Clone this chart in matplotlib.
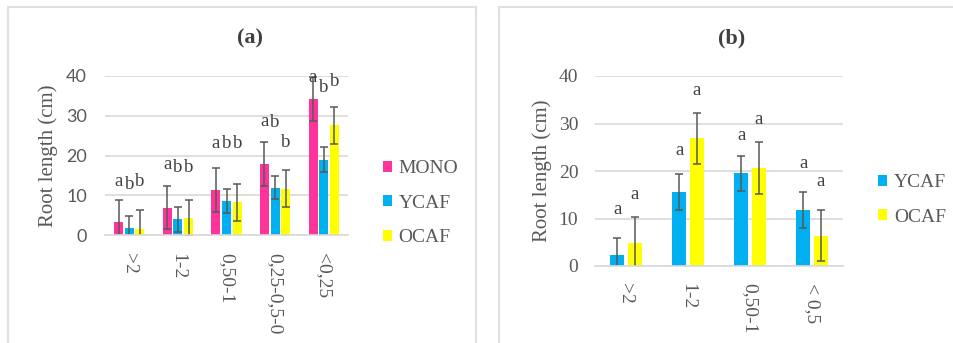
import matplotlib
matplotlib.use("Agg")
import matplotlib.pyplot as plt
from matplotlib.patches import Rectangle
import numpy as np

# panel (a)
cats_a = [">2", "1-2", "0,50-1", "0,25-0,5-0", "<0,25"]
mono = [3.35, 6.9, 11.4, 17.9, 34.2]
mono_err = [5.45, 5.4, 5.5, 5.5, 5.5]
ycaf_a = [1.85, 3.9, 8.55, 11.9, 18.9]
ycaf_a_err = [3.0, 3.1, 3.0, 2.9, 3.15]
ocaf_a = [1.5, 4.3, 8.2, 11.65, 27.6]
ocaf_a_err = [4.7, 4.5, 4.6, 4.6, 4.6]
letters_a = [["a", "b", "b"], ["a", "b", "b"], ["a", "b", "b"], ["a", "b", "b"], ["a", "b", "b"]]
letter_y_a = [[13.5, 12.8, 13.5], [17.7, 17.0, 17.0], [23.0, 23.1, 23.0],
              [28.5, 28.2, 23.3], [39.7, 37.2, 38.7]]

# panel (b)
cats_b = [">2", "1-2", "0,50-1", "< 0,5"]
ycaf_b = [2.25, 15.5, 19.5, 11.75]
ycaf_b_err = [3.7, 3.8, 3.7, 3.8]
ocaf_b = [4.85, 26.85, 20.7, 6.4]
ocaf_b_err = [5.5, 5.3, 5.5, 5.4]
letters_b = [["a", "a"], ["a", "a"], ["a", "a"], ["a", "a"]]
letter_y_b = [[11.8, 15.1], [24.3, 36.9], [27.4, 30.8], [21.65, 17.8]]

PINK = "#FF3399"
CYAN = "#00B0F0"
YELLOW = "#FFFF00"
GREY = "#595959"
GRID = "#D9D9D9"
SERIF = "Liberation Serif"

fig = plt.figure(figsize=(9.54, 3.43), dpi=100)

# panel frames
fig.patches.append(Rectangle((8 / 954, -0.1), 468 / 954, 1.1 - 7 / 343, transform=fig.transFigure,
                             fill=False, edgecolor="#E0E0E0", lw=1.5))
fig.patches.append(Rectangle((499 / 954, -0.1), 0.6, 1.1 - 7 / 343, transform=fig.transFigure,
                             fill=False, edgecolor="#E0E0E0", lw=1.5))

ax_a = fig.add_axes([105 / 954, 1 - 235 / 343, 243 / 954, 159 / 343])
ax_b = fig.add_axes([595 / 954, 1 - 266 / 343, 248 / 954, 190 / 343])

ekw = dict(ecolor=GREY, elinewidth=1.1, capsize=3, capthick=1.1)


def style(ax, cats, tickfont, ticksize, pad):
    ax.set_ylim(0, 40)
    ax.set_xlim(-0.5, len(cats) - 0.5)
    ax.set_yticks([0, 10, 20, 30, 40])
    ax.yaxis.grid(True, color=GRID, lw=1.2)
    ax.set_axisbelow(True)
    for s in ["top", "right", "left"]:
        ax.spines[s].set_visible(False)
    ax.spines["bottom"].set_color(GRID)
    ax.spines["bottom"].set_linewidth(1.2)
    ax.set_xticks(np.arange(len(cats)))
    ax.set_xticklabels(cats, rotation=-90, fontsize=14, family=SERIF, color=GREY, va="top")
    ax.tick_params(axis="both", length=0, colors=GREY)
    ax.tick_params(axis="y", pad=pad)
    ax.tick_params(axis="x", pad=pad)
    for t in ax.get_yticklabels():
        t.set_fontfamily(tickfont)
        t.set_fontsize(ticksize)
    ax.set_ylabel("Root length (cm)", fontsize=15, family=SERIF, color=GREY)


# --- panel (a)
x = np.arange(len(cats_a))
off = 0.22
w = 0.185
series_a = [(mono, mono_err, PINK, "MONO"), (ycaf_a, ycaf_a_err, CYAN, "YCAF"),
            (ocaf_a, ocaf_a_err, YELLOW, "OCAF")]
for k, (vals, errs, col, lab) in enumerate(series_a):
    ax_a.bar(x + (k - 1) * off, vals, w, color=col, label=lab, yerr=errs, error_kw=ekw)
for i in range(len(cats_a)):
    for k in range(3):
        ax_a.text(x[i] + (k - 1) * off, letter_y_a[i][k], letters_a[i][k], ha="center", va="center",
                  fontsize=13.5, family=SERIF, color="#404040")
style(ax_a, cats_a, "Lato", 13, 13)
ax_a.yaxis.set_label_coords(-0.193, 0.5)
ax_a.set_title("(a)", fontsize=16, family=SERIF, fontweight="bold", color="#404040",
               x=(250 - 105) / 243, y=1 + (76 - 38) / 159, va="center", pad=0)
ax_a.legend(loc="center left", bbox_to_anchor=(1.07, 0.2), frameon=False,
            prop={"family": SERIF, "size": 14}, handlelength=0.48, handleheight=0.48,
            handletextpad=0.35, labelspacing=0.9, labelcolor=GREY)

# --- panel (b)
x = np.arange(len(cats_b))
off = 0.28
w = 0.226
series_b = [(ycaf_b, ycaf_b_err, CYAN, "YCAF"), (ocaf_b, ocaf_b_err, YELLOW, "OCAF")]
for k, (vals, errs, col, lab) in enumerate(series_b):
    ax_b.bar(x + (k - 0.5) * off, vals, w, color=col, label=lab, yerr=errs, error_kw=ekw)
for i in range(len(cats_b)):
    for k in range(2):
        ax_b.text(x[i] + (k - 0.5) * off, letter_y_b[i][k], letters_b[i][k], ha="center", va="center",
                  fontsize=13.5, family=SERIF, color="#404040")
style(ax_b, cats_b, SERIF, 14, 12)
ax_b.yaxis.set_label_coords(-0.173, 0.5)
ax_b.set_title("(b)", fontsize=16, family=SERIF, fontweight="bold", color="#404040",
               x=(732 - 595) / 248, y=1 + (76 - 38) / 190, va="center", pad=0)
ax_b.legend(loc="center left", bbox_to_anchor=(1.07, 0.347), frameon=False,
            prop={"family": SERIF, "size": 14}, handlelength=0.48, handleheight=0.48,
            handletextpad=0.35, labelspacing=0.9, labelcolor=GREY)

fig.savefig("out.png", dpi=100, facecolor="white")
